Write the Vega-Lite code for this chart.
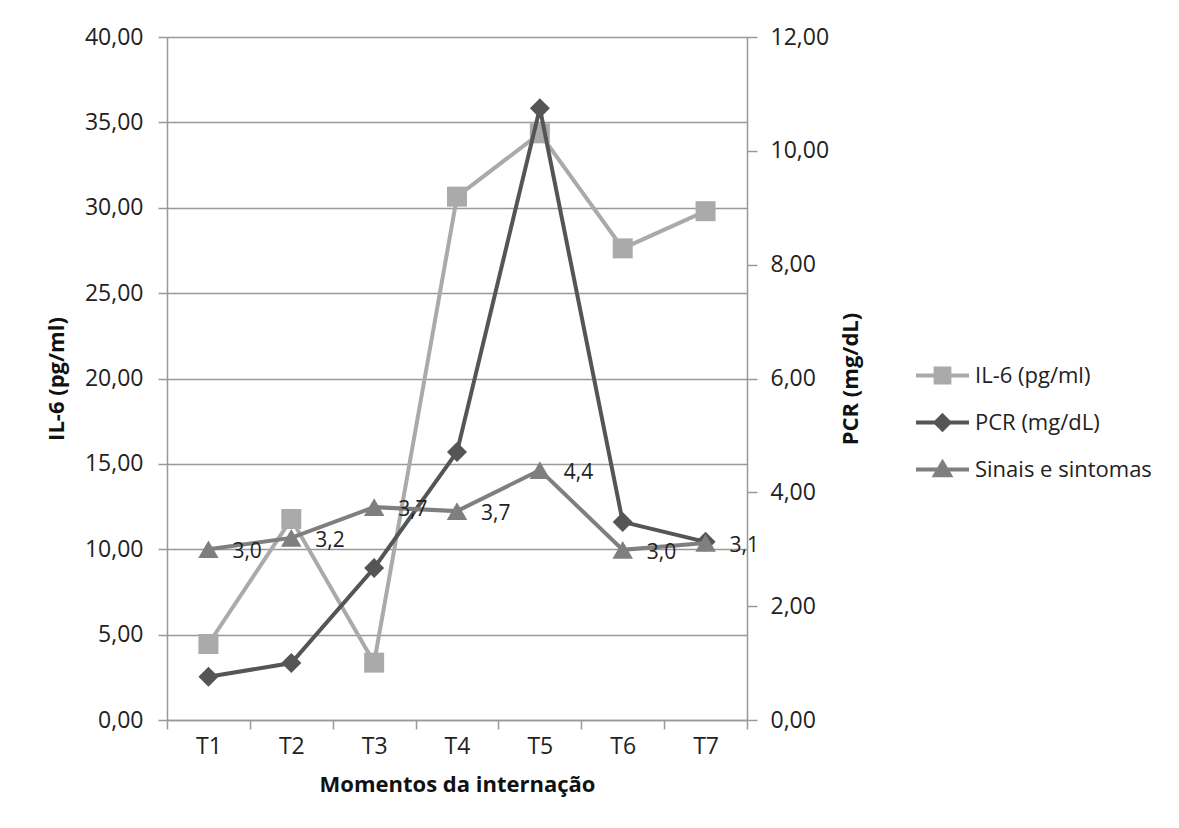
{
  "$schema": "https://vega.github.io/schema/vega-lite/v6.json",
  "width": 580,
  "height": 683,
  "autosize": {"type": "none"},
  "padding": {"left": 167, "top": 37, "right": 432, "bottom": 108},
  "background": "white",
  "config": {
    "locale": {"number": {"decimal": ",", "thousands": ".", "grouping": [3], "currency": ["R$", ""]}},
    "font": "Open Sans",
    "view": {"stroke": null},
    "axis": {
      "labelFont": "Open Sans",
      "labelFontSize": 23,
      "labelColor": "#222222",
      "titleFont": "Open Sans",
      "titleFontSize": 22,
      "titleFontWeight": "bold",
      "titleColor": "#111111",
      "domainColor": "#999999",
      "tickColor": "#999999",
      "gridColor": "#999999",
      "domainWidth": 1.5,
      "tickWidth": 1.5,
      "gridWidth": 1.5
    }
  },
  "data": {
    "values": [
      {"t": "T1", "series": "IL-6 (pg/ml)", "value": 4.45},
      {"t": "T2", "series": "IL-6 (pg/ml)", "value": 11.77},
      {"t": "T3", "series": "IL-6 (pg/ml)", "value": 3.36},
      {"t": "T4", "series": "IL-6 (pg/ml)", "value": 30.65},
      {"t": "T5", "series": "IL-6 (pg/ml)", "value": 34.36},
      {"t": "T6", "series": "IL-6 (pg/ml)", "value": 27.62},
      {"t": "T7", "series": "IL-6 (pg/ml)", "value": 29.8},
      {"t": "T1", "series": "PCR (mg/dL)", "value": 0.76},
      {"t": "T2", "series": "PCR (mg/dL)", "value": 1.0},
      {"t": "T3", "series": "PCR (mg/dL)", "value": 2.67},
      {"t": "T4", "series": "PCR (mg/dL)", "value": 4.71},
      {"t": "T5", "series": "PCR (mg/dL)", "value": 10.75},
      {"t": "T6", "series": "PCR (mg/dL)", "value": 3.48},
      {"t": "T7", "series": "PCR (mg/dL)", "value": 3.13},
      {"t": "T1", "series": "Sinais e sintomas", "value": 3.0},
      {"t": "T2", "series": "Sinais e sintomas", "value": 3.2},
      {"t": "T3", "series": "Sinais e sintomas", "value": 3.74},
      {"t": "T4", "series": "Sinais e sintomas", "value": 3.67},
      {"t": "T5", "series": "Sinais e sintomas", "value": 4.39},
      {"t": "T6", "series": "Sinais e sintomas", "value": 2.99},
      {"t": "T7", "series": "Sinais e sintomas", "value": 3.11}
    ]
  },
  "encoding": {
    "x": {
      "field": "t",
      "type": "nominal",
      "bandPosition": 0.5,
      "scale": {"type": "band", "paddingInner": 0, "paddingOuter": 0},
      "axis": {
        "title": "Momentos da internação",
        "labelAngle": 0,
        "tickBand": "extent",
        "tickSize": 9,
        "labelPadding": 6,
        "titlePadding": 16,
        "grid": false
      }
    }
  },
  "layer": [
    {
      "transform": [{"filter": "datum.series === 'IL-6 (pg/ml)'"}],
      "encoding": {
        "y": {
          "field": "value",
          "type": "quantitative",
          "scale": {"domain": [0, 40], "nice": false},
          "axis": {
            "orient": "left",
            "title": "IL-6 (pg/ml)",
            "values": [0, 5, 10, 15, 20, 25, 30, 35, 40],
            "format": ".2f",
            "grid": true,
            "tickSize": 9,
            "labelPadding": 15,
            "titlePadding": 16
          }
        },
        "color": {
          "field": "series",
          "type": "nominal",
          "scale": {"domain": ["IL-6 (pg/ml)", "PCR (mg/dL)", "Sinais e sintomas"], "range": ["#aaaaaa", "#555555", "#7f7f7f"]}
        }
      },
      "layer": [
        {"mark": {"type": "line", "strokeWidth": 4}},
        {"mark": {"type": "point", "shape": "square", "filled": true, "size": 400, "opacity": 1}}
      ]
    },
    {
      "transform": [{"filter": "datum.series !== 'IL-6 (pg/ml)'"}],
      "encoding": {
        "y": {
          "field": "value",
          "type": "quantitative",
          "scale": {"domain": [0, 12], "nice": false},
          "axis": {
            "orient": "right",
            "title": "PCR (mg/dL)",
            "titleAngle": 270,
            "titleBaseline": "bottom",
            "values": [0, 2, 4, 6, 8, 10, 12],
            "format": ".2f",
            "grid": false,
            "tickSize": 10,
            "labelPadding": 13,
            "titlePadding": 34
          }
        },
        "color": {
          "field": "series",
          "type": "nominal",
          "scale": {"domain": ["IL-6 (pg/ml)", "PCR (mg/dL)", "Sinais e sintomas"], "range": ["#aaaaaa", "#555555", "#7f7f7f"]}
        }
      },
      "layer": [
        {
          "transform": [{"filter": "datum.series === 'PCR (mg/dL)'"}],
          "layer": [
            {"mark": {"type": "line", "strokeWidth": 4}},
            {"mark": {"type": "point", "shape": "diamond", "filled": true, "size": 400, "opacity": 1}}
          ]
        },
        {
          "transform": [{"filter": "datum.series === 'Sinais e sintomas'"}],
          "layer": [
            {"mark": {"type": "line", "strokeWidth": 4}},
            {"mark": {"type": "point", "shape": "triangle-up", "filled": true, "size": 420, "opacity": 1}},
            {
              "mark": {"type": "text", "align": "left", "baseline": "middle", "dx": 24, "dy": 3, "fontSize": 21, "font": "Open Sans", "color": "#222222"},
              "encoding": {
                "text": {"field": "value", "type": "quantitative", "format": ".1f"},
                "color": {"value": "#222222"}
              }
            }
          ]
        },
        {
          "mark": {"type": "point", "filled": true, "opacity": 0},
          "encoding": {
            "shape": {
              "field": "series",
              "type": "nominal",
              "scale": {
                "domain": ["IL-6 (pg/ml)", "PCR (mg/dL)", "Sinais e sintomas"],
                "range": [
                  "M-1,0H1M-0.26,-0.26H0.26V0.26H-0.26Z",
                  "M-1,0H1M0,-0.26L0.26,0L0,0.26L-0.26,0Z",
                  "M-1,0H1M0,-0.26L0.28,0.22H-0.28Z"
                ]
              },
              "legend": {
                "title": null,
                "orient": "none",
                "legendX": 747,
                "legendY": 310,
                "symbolSize": 2809,
                "symbolStrokeWidth": 4,
                "symbolOpacity": 1,
                "rowPadding": 3,
                "labelOffset": 4,
                "labelFontSize": 22,
                "labelFont": "Open Sans",
                "labelColor": "#222222",
                "labelLimit": 300
              }
            },
            "color": {
              "field": "series",
              "type": "nominal",
              "scale": {"domain": ["IL-6 (pg/ml)", "PCR (mg/dL)", "Sinais e sintomas"], "range": ["#aaaaaa", "#555555", "#7f7f7f"]},
              "legend": {
                "title": null,
                "orient": "none",
                "legendX": 747,
                "legendY": 310,
                "symbolSize": 2809,
                "symbolStrokeWidth": 4,
                "symbolOpacity": 1,
                "rowPadding": 3,
                "labelOffset": 4,
                "labelFontSize": 22,
                "labelFont": "Open Sans",
                "labelColor": "#222222",
                "labelLimit": 300
              }
            }
          }
        }
      ]
    }
  ],
  "resolve": {"scale": {"y": "independent"}}
}
